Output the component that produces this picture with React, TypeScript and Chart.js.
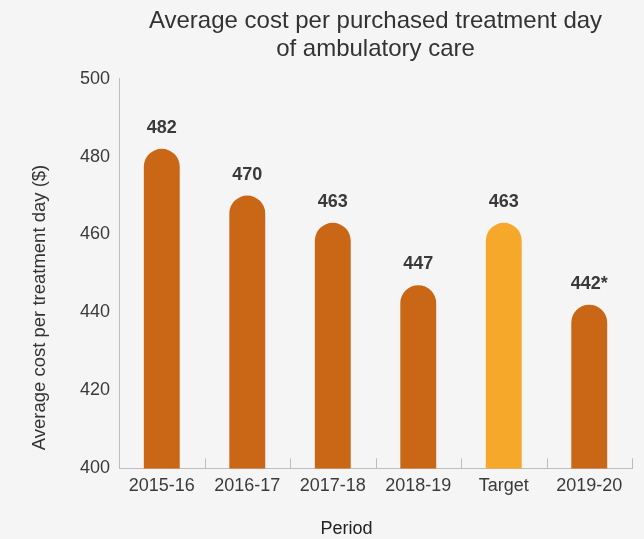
import React, { useEffect, useRef } from "react";
import { Chart, registerables } from "chart.js";

Chart.register(...registerables);

const categories = ["2015-16", "2016-17", "2017-18", "2018-19", "Target", "2019-20"];
const values = [482, 470, 463, 447, 463, 442];
const valueLabels = ["482", "470", "463", "447", "463", "442*"];
const barColors = ["#CA6716", "#CA6716", "#CA6716", "#CA6716", "#F6A82B", "#CA6716"];
const yTicks = { min: 400, max: 500, step: 20 };
const xAxisTitle = "Period";
const yAxisTitle = "Average cost per treatment day ($)";

const FONT = "'Liberation Sans', Arial, Helvetica, sans-serif";

const valueLabelPlugin = {
  id: "valueLabels",
  afterDatasetsDraw(chart: any) {
    const ctx = chart.ctx;
    const meta = chart.getDatasetMeta(0);
    ctx.save();
    ctx.font = `bold 18px ${FONT}`;
    ctx.fillStyle = "#3a3a3a";
    ctx.textAlign = "center";
    ctx.textBaseline = "alphabetic";
    meta.data.forEach((el: any, i: number) => {
      ctx.fillText(valueLabels[i], el.x, el.y - 16);
    });
    ctx.restore();
  },
};

const innerTicksPlugin = {
  id: "innerTicks",
  afterDraw(chart: any) {
    const x = chart.scales.x;
    const ctx = chart.ctx;
    const n = categories.length;
    const step = x.getPixelForValue(1) - x.getPixelForValue(0);
    ctx.save();
    ctx.strokeStyle = "#bdbdbd";
    ctx.lineWidth = 1;
    for (let i = 1; i <= n; i++) {
      const px = Math.round(x.getPixelForValue(i) - step / 2) + 0.5;
      ctx.beginPath();
      ctx.moveTo(px, x.top);
      ctx.lineTo(px, x.top - 10);
      ctx.stroke();
    }
    ctx.restore();
  },
};

const axisTitlesPlugin = {
  id: "axisTitles",
  afterDraw(chart: any) {
    const ctx = chart.ctx;
    const a = chart.chartArea;
    ctx.save();
    ctx.font = `18px ${FONT}`;
    ctx.textAlign = "center";
    ctx.textBaseline = "middle";
    ctx.fillStyle = "#222222";
    ctx.fillText(xAxisTitle, (a.left + a.right) / 2 - 29, a.bottom + 61);
    ctx.fillStyle = "#333333";
    ctx.translate(40, (a.top + a.bottom) / 2 + 34);
    ctx.rotate(-Math.PI / 2);
    ctx.font = `18.5px ${FONT}`;
    ctx.fillText(yAxisTitle, 0, 0);
    ctx.restore();
  },
};

export default function App() {
  const ref = useRef<HTMLCanvasElement>(null);
  useEffect(() => {
    document.body.style.margin = "0";
    document.body.style.background = "#f5f5f5";
    const chart = new Chart(ref.current as HTMLCanvasElement, {
      type: "bar",
      data: {
        labels: categories,
        datasets: [
          {
            data: values,
            backgroundColor: barColors,
            borderRadius: 40,
            borderSkipped: "start",
            barPercentage: 0.42,
            categoryPercentage: 1,
          },
        ],
      },
      options: {
        animation: false,
        responsive: false,
        layout: { padding: { left: 71, right: 12, top: 0, bottom: 35 } },
        plugins: {
          legend: { display: false },
          tooltip: { enabled: false },
          title: {
            display: true,
            fullSize: false,
            text: ["Average cost per purchased treatment day", "of ambulatory care"],
            color: "#333333",
            font: { family: FONT, size: 24, weight: "normal", lineHeight: 1.2 },
            padding: { top: 6.5, bottom: 14.5 },
          },
        },
        scales: {
          x: {
            grid: { display: false, drawTicks: false },
            border: { display: true, color: "#bdbdbd", width: 1 },
            ticks: { color: "#3a3a3a", font: { family: FONT, size: 18 }, padding: 7 },
          },
          y: {
            min: yTicks.min,
            max: yTicks.max,
            grid: { display: false, drawTicks: false },
            border: { display: true, color: "#bdbdbd", width: 1 },
            ticks: {
              stepSize: yTicks.step,
              color: "#3a3a3a",
              font: { family: FONT, size: 18 },
              padding: 9,
            },
          },
        },
      },
      plugins: [valueLabelPlugin, innerTicksPlugin, axisTitlesPlugin],
    });
    return () => chart.destroy();
  }, []);
  return (
    <div style={{ width: 644, height: 539, background: "#f5f5f5" }}>
      <canvas ref={ref} width={644} height={539} />
    </div>
  );
}
